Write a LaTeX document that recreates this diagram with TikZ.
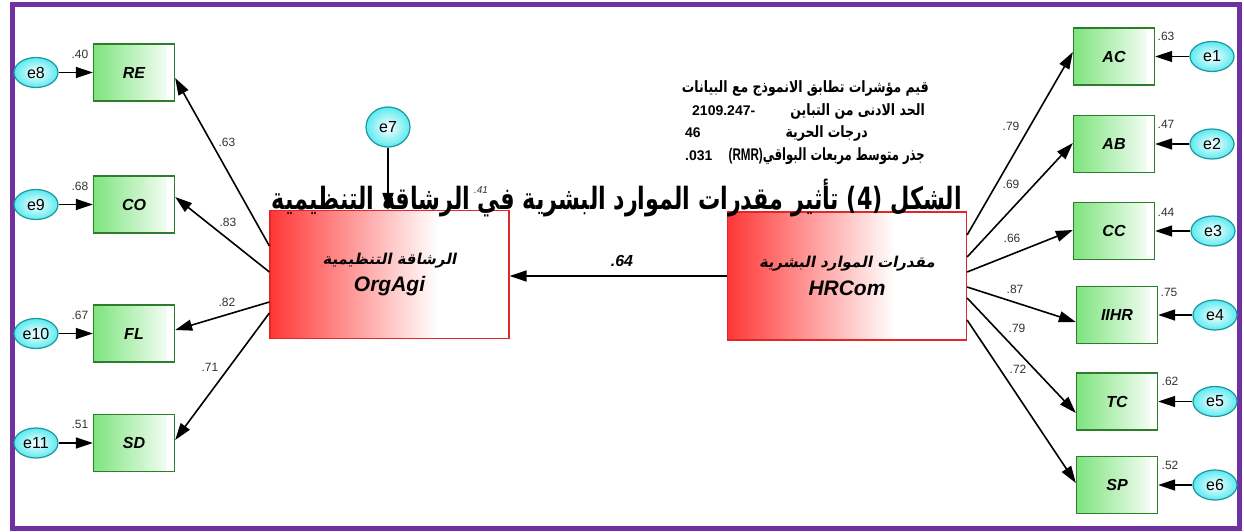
\documentclass[tikz,border=0pt]{standalone}
\usepackage{fontspec}
\usepackage{graphicx}
\setmainfont{Liberation Sans}
\newfontfamily\arabicfont[Script=Arabic]{DejaVu Sans}
\newfontfamily\arabicslant[Script=Arabic,FakeSlant=0.2]{DejaVu Sans}
\TeXXeTstate=1
\usetikzlibrary{arrows.meta,calc,shapes.geometric}
\definecolor{framepurple}{RGB}{112,48,160}
\definecolor{gborder}{RGB}{45,125,45}
\definecolor{gfill}{RGB}{125,228,125}
\definecolor{rborder}{RGB}{225,40,40}
\definecolor{rfill}{RGB}{255,55,55}
\definecolor{cborder}{RGB}{30,150,160}
\definecolor{cfill}{RGB}{90,235,240}
\tikzset{
  obs/.style={draw=gborder, line width=1.3pt, minimum width=81pt, minimum height=57pt, inner sep=0pt,
    path picture={\shade[left color=gfill, right color=white]
      (path picture bounding box.north west) rectangle ($(path picture bounding box.south west)!0.9!(path picture bounding box.south east)$);},
    font=\fontsize{16}{16}\selectfont\bfseries\itshape},
  err/.style={ellipse, draw=cborder, line width=1.2pt, inner color=white, outer color=cfill,
    minimum width=44pt, minimum height=30pt, inner sep=0pt, font=\fontsize{16}{16}\selectfont},
  lat/.style={draw=rborder, line width=1.2pt, minimum width=239pt, minimum height=128pt, inner sep=0pt, align=center,
    path picture={\fill[white] (path picture bounding box.north west) rectangle (path picture bounding box.south east);
      \shade[left color=rfill, right color=white]
      (path picture bounding box.north west) rectangle ($(path picture bounding box.south west)!0.7!(path picture bounding box.south east)$);}},
  arr/.style={-{Triangle[length=17pt,width=11pt]}, line width=1.6pt, black},
  lbl/.style={font=\fontsize{12}{12}\selectfont, text=black!80, inner sep=0pt},
  fit/.style={font=\fontsize{12.5}{12.5}\selectfont\bfseries, inner sep=0pt},
  num/.style={font=\fontsize{14}{14}\selectfont\bfseries, inner sep=0pt}
}
\begin{document}
\begin{tikzpicture}[x=1pt,y=-1pt]
\useasboundingbox (0,0) rectangle (1244,532);
\fill[white] (0,0) rectangle (1244,532);
\draw[framepurple, line width=5pt] (12,5) rectangle (1239,528);

% latent variables
\node[lat] (org) at (389.5,274.5) {{\fontsize{15}{15}\arabicslant\bfseries\beginR الرشاقة التنظيمية\endR}\\[8pt]{\fontsize{21}{21}\selectfont\bfseries\itshape OrgAgi}};
\node[lat] (hr) at (847,276) {{\fontsize{15}{15}\arabicslant\bfseries\beginR مقدرات الموارد البشرية\endR}\\[8pt]{\fontsize{21}{21}\selectfont\bfseries\itshape HRCom}};

% left indicators
\node[obs] (re) at (134,72.5) {RE};
\node[obs] (co) at (134,204.5) {CO};
\node[obs] (fl) at (134,333.5) {FL};
\node[obs] (sd) at (134,443) {SD};
\node[err] (e8) at (36,72.5) {e8};
\node[err] (e9) at (36,204.5) {e9};
\node[err] (e10) at (36,333.5) {e10};
\node[err] (e11) at (36,443) {e11};

% right indicators
\node[obs] (ac) at (1114,56.5) {AC};
\node[obs] (ab) at (1114,144) {AB};
\node[obs] (cc) at (1114,231) {CC};
\node[obs] (iihr) at (1117,315) {IIHR};
\node[obs] (tc) at (1117,401.5) {TC};
\node[obs] (sp) at (1117,485) {SP};
\node[err] (e1) at (1212,56.5) {e1};
\node[err] (e2) at (1212,144) {e2};
\node[err] (e3) at (1213,231) {e3};
\node[err] (e4) at (1215,315) {e4};
\node[err] (e5) at (1215,401.5) {e5};
\node[err] (e6) at (1215,485) {e6};

\node[err, minimum height=40pt] (e7) at (388,127) {e7};

% error arrows
\foreach \e/\b in {e8/re,e9/co,e10/fl,e11/sd} \draw[arr] (\e) -- (\b);
\foreach \e/\b in {e1/ac,e2/ab,e3/cc,e4/iihr,e5/tc,e6/sp} \draw[arr] (\e) -- (\b);
\draw[arr] (e7.south) -- (e7.south |- org.north);

% structural path
\draw[arr] (hr.west) -- (hr.west -| org.east);
\node[font=\fontsize{16}{16}\selectfont\bfseries\itshape, inner sep=0pt] (p64) at (622,261) {.64};

% loadings left
\draw[arr] ([yshift=28.5pt]org.west) -- ([yshift=-5.5pt]re.east);
\draw[arr] ([yshift=2.5pt]org.west) -- ([yshift=7.5pt]co.east);
\draw[arr] ([yshift=-27.5pt]org.west) -- ([yshift=3.5pt]fl.east);
\draw[arr] ([yshift=-38.5pt]org.west) -- ([yshift=3pt]sd.east);

% loadings right
\draw[arr] ([yshift=41pt]hr.east) -- ([yshift=4.5pt]ac.west);
\draw[arr] ([yshift=19pt]hr.east) -- ([yshift=1pt]ab.west);
\draw[arr] ([yshift=4pt]hr.east) -- ([yshift=1pt]cc.west);
\draw[arr] ([yshift=-11pt]hr.east) -- ([yshift=-7pt]iihr.west);
\draw[arr] ([yshift=-22pt]hr.east) -- ([yshift=-11.5pt]tc.west);
\draw[arr] ([yshift=-44pt]hr.east) -- ([yshift=2pt]sp.west);

% path labels
\node[lbl] at (227,142) {.63};
\node[lbl] at (228,222) {.83};
\node[lbl] at (227,302) {.82};
\node[lbl] at (210,367) {.71};
\node[lbl] at (1011,126) {.79};
\node[lbl] at (1011,184) {.69};
\node[lbl] at (1012,238) {.66};
\node[lbl] at (1015,289) {.87};
\node[lbl] at (1017,328) {.79};
\node[lbl] at (1018,369) {.72};

% R squared labels
\node[lbl] at (80,54) {.40};
\node[lbl] at (80,186) {.68};
\node[lbl] at (80,315) {.67};
\node[lbl] at (80,424) {.51};
\node[lbl] at (1166,36) {.63};
\node[lbl] at (1166,124) {.47};
\node[lbl] at (1166,212) {.44};
\node[lbl] at (1169,292) {.75};
\node[lbl] at (1170,381) {.62};
\node[lbl] at (1170,465) {.52};

% fit indices
\node[fit, anchor=east] (f1) at (929,88) {\scalebox{1}[1.25]{\arabicfont\bfseries\beginR قيم مؤشرات تطابق الانموذج مع البيانات\endR}};
\node[fit, anchor=east] (f2) at (925,111) {\scalebox{1}[1.25]{\arabicfont\bfseries\beginR الحد الادنى من التباين\endR}};
\node[num, anchor=west] (n2) at (692,111) {2109.247-};
\node[fit, anchor=east] (f3) at (868,133) {\scalebox{1}[1.25]{\arabicfont\bfseries\beginR درجات الحرية\endR}};
\node[num, anchor=west] (n3) at (685,133) {46};
\node[fit, anchor=east] (f4) at (925,156) {\scalebox{0.86}[1.25]{\fontsize{13.5}{13.5}\selectfont(RMR)\arabicfont\bfseries\beginR جذر متوسط مربعات البواقي\endR}};
\node[num, anchor=west] (n4) at (685,156) {.031};

% title
\node[inner sep=0pt] (title) at (617,198) {\resizebox*{690pt}{38pt}{\arabicfont\bfseries\beginR الشكل \beginL(4)\endL{} تأثير مقدرات الموارد البشرية في الرشاقة التنظيمية\endR}};
\node[lbl, font=\fontsize{10}{10}\selectfont\itshape] (r41) at (481,190) {.41};
\end{tikzpicture}
\end{document}
